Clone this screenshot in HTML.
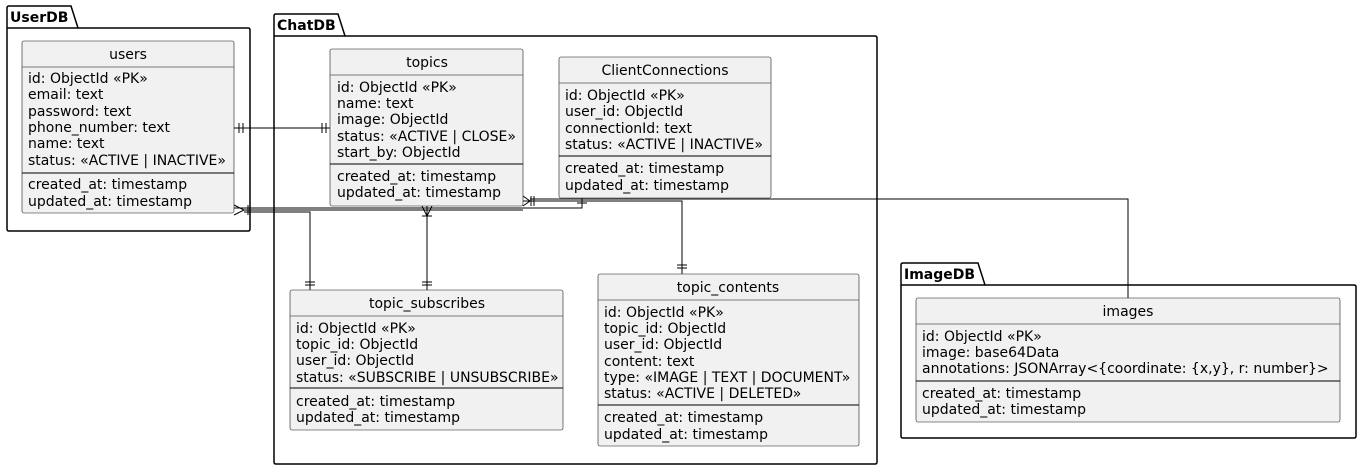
<!DOCTYPE html>
<html><head><meta charset="utf-8"><style>
html,body{margin:0;padding:0;background:#fff;}
svg{display:block;}
text{font-family:"DejaVu Sans","Liberation Sans",sans-serif;font-size:14px;fill:#000;}
.t{text-anchor:middle;}
.b{font-weight:bold;}
.e{fill:#f1f1f1;stroke:#181818;stroke-width:0.6;}
.p{fill:none;stroke:#000;stroke-width:1.5;}
.l{stroke:#000;stroke-width:1;fill:none;}
.g{stroke:#555;stroke-width:0.8;}
</style></head><body>
<svg width="1362" height="469" viewBox="0 0 1362 469">
<!-- packages -->
<path class="p" d="M7,28 V8 Q7,6 9,6 H71 L78,28 H248 Q250,28 250,30 V229 Q250,231 248,231 H9 Q7,231 7,229 Z"/>
<line class="p" x1="7" y1="28" x2="78" y2="28"/>
<text class="b" x="10" y="22">UserDB</text>

<path class="p" d="M274,36 V16 Q274,14 276,14 H338 L345,36 H875 Q877,36 877,38 V462 Q877,464 875,464 H276 Q274,464 274,462 Z"/>
<line class="p" x1="274" y1="36" x2="345" y2="36"/>
<text class="b" x="277" y="30">ChatDB</text>

<path class="p" d="M901,285 V265 Q901,263 903,263 H978 L985,285 H1354 Q1356,285 1356,287 V436 Q1356,438 1354,438 H903 Q901,438 901,436 Z"/>
<line class="p" x1="901" y1="285" x2="985" y2="285"/>
<text class="b" x="904" y="279">ImageDB</text>

<!-- connectors -->
<g class="l">
<line x1="234" y1="128" x2="330" y2="128"/>
<line x1="239" y1="123" x2="239" y2="133"/><line x1="243" y1="123" x2="243" y2="133"/>
<line x1="322" y1="123" x2="322" y2="133"/><line x1="326" y1="123" x2="326" y2="133"/>

<polyline points="234,208 582,208 582,198"/>
<line x1="577" y1="203" x2="587" y2="203"/>
<polyline points="244,210 523,210"/>
<path d="M234,205 L244,210 L234,215"/>
<line x1="248" y1="205" x2="248" y2="215"/>
<polyline points="244,212 310,212 310,290"/>
<line x1="305" y1="282" x2="315" y2="282"/><line x1="305" y1="285" x2="315" y2="285"/>

<polyline points="427,206 427,290"/>
<path d="M427,216 L422,206 M427,216 L432,206"/>
<line x1="422" y1="216" x2="432" y2="216"/>
<line x1="422" y1="282" x2="432" y2="282"/><line x1="422" y1="285" x2="432" y2="285"/>

<polyline points="523,201 682,201 682,274"/>
<path d="M523,196 L530,201 L523,206"/>
<line x1="531" y1="196" x2="531" y2="206"/><line x1="534" y1="196" x2="534" y2="206"/>
<line x1="677" y1="265" x2="687" y2="265"/><line x1="677" y1="268" x2="687" y2="268"/>
<polyline points="530,199 1128,199 1128,298"/>
</g>

<!-- users -->
<rect class="e" x="22" y="41" width="212" height="172" rx="2"/>
<line class="g" x1="22" y1="67" x2="234" y2="67"/>
<line class="l" x1="22" y1="173" x2="234" y2="173"/>
<text class="t" x="128" y="59">users</text>
<text x="28" y="83">id: ObjectId «PK»</text>
<text x="28" y="99">email: text</text>
<text x="28" y="116">password: text</text>
<text x="28" y="132">phone_number: text</text>
<text x="28" y="148">name: text</text>
<text x="28" y="165">status: «ACTIVE | INACTIVE»</text>
<text x="28" y="189">created_at: timestamp</text>
<text x="28" y="206">updated_at: timestamp</text>

<!-- topics -->
<rect class="e" x="330" y="49" width="193" height="157" rx="2"/>
<line class="g" x1="330" y1="75" x2="523" y2="75"/>
<line class="l" x1="330" y1="164" x2="523" y2="164"/>
<text class="t" x="427" y="67">topics</text>
<text x="337" y="92">id: ObjectId «PK»</text>
<text x="337" y="108">name: text</text>
<text x="337" y="124">image: ObjectId</text>
<text x="337" y="141">status: «ACTIVE | CLOSE»</text>
<text x="337" y="157">start_by: ObjectId</text>
<text x="337" y="181">created_at: timestamp</text>
<text x="337" y="197">updated_at: timestamp</text>

<!-- ClientConnections -->
<rect class="e" x="559" y="57" width="212" height="141" rx="2"/>
<line class="g" x1="559" y1="83" x2="771" y2="83"/>
<line class="l" x1="559" y1="156" x2="771" y2="156"/>
<text class="t" x="665" y="75">ClientConnections</text>
<text x="565" y="100">id: ObjectId «PK»</text>
<text x="565" y="116">user_id: ObjectId</text>
<text x="565" y="133">connectionId: text</text>
<text x="565" y="149">status: «ACTIVE | INACTIVE»</text>
<text x="565" y="173">created_at: timestamp</text>
<text x="565" y="190">updated_at: timestamp</text>

<!-- topic_subscribes -->
<rect class="e" x="290" y="290" width="273" height="140" rx="2"/>
<line class="g" x1="290" y1="316" x2="563" y2="316"/>
<line class="l" x1="290" y1="388" x2="563" y2="388"/>
<text class="t" x="427" y="308">topic_subscribes</text>
<text x="296" y="333">id: ObjectId «PK»</text>
<text x="296" y="349">topic_id: ObjectId</text>
<text x="296" y="365">user_id: ObjectId</text>
<text x="296" y="382">status: «SUBSCRIBE | UNSUBSCRIBE»</text>
<text x="296" y="406">created_at: timestamp</text>
<text x="296" y="422">updated_at: timestamp</text>

<!-- topic_contents -->
<rect class="e" x="598" y="274" width="261" height="172" rx="2"/>
<line class="g" x1="598" y1="300" x2="859" y2="300"/>
<line class="l" x1="598" y1="405" x2="859" y2="405"/>
<text class="t" x="728" y="292">topic_contents</text>
<text x="604" y="317">id: ObjectId «PK»</text>
<text x="604" y="333">topic_id: ObjectId</text>
<text x="604" y="349">user_id: ObjectId</text>
<text x="604" y="366">content: text</text>
<text x="604" y="382">type: «IMAGE | TEXT | DOCUMENT»</text>
<text x="604" y="398">status: «ACTIVE | DELETED»</text>
<text x="604" y="422">created_at: timestamp</text>
<text x="604" y="439">updated_at: timestamp</text>

<!-- images -->
<rect class="e" x="916" y="298" width="424" height="124" rx="2"/>
<line class="g" x1="916" y1="324" x2="1340" y2="324"/>
<line class="l" x1="916" y1="381" x2="1340" y2="381"/>
<text class="t" x="1128" y="316">images</text>
<text x="922" y="341">id: ObjectId «PK»</text>
<text x="922" y="357">image: base64Data</text>
<text x="922" y="373">annotations: JSONArray&lt;{coordinate: {x,y}, r: number}&gt;</text>
<text x="922" y="398">created_at: timestamp</text>
<text x="922" y="414">updated_at: timestamp</text>
</svg>
</body></html>
